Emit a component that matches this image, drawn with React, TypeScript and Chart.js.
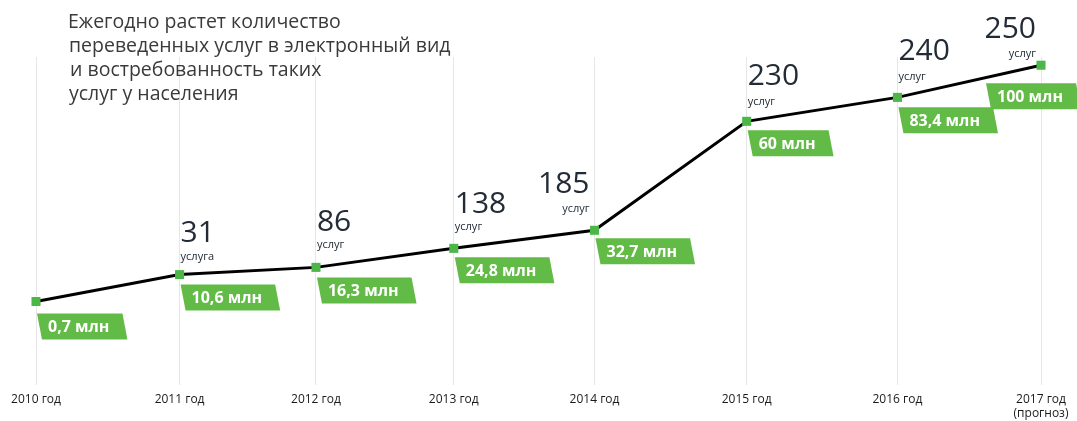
import React, { useEffect, useRef } from 'react';
import { Chart, registerables } from 'chart.js';

Chart.register(...registerables);

// ---- data ----
const years: (string | string[])[] = [
  '2010 год', '2011 год', '2012 год', '2013 год', '2014 год', '2015 год', '2016 год', ['2017 год', '(прогноз)'],
];
// horizontal position of each year on the timeline (uneven spacing)
const yearPos = [0, 1, 1.95, 2.91, 3.89, 4.95, 6, 7];
// relative height of the decorative trend line (0–100 scale)
const lineLevel = [25.5, 33.7, 35.9, 41.7, 47.2, 80.4, 87.7, 97.5];
const services: (number | null)[] = [null, 31, 86, 138, 185, 230, 240, 250];
const serviceUnits = ['', 'услуга', 'услуг', 'услуг', 'услуг', 'услуг', 'услуг', 'услуг'];
const usersMln = [0.7, 10.6, 16.3, 24.8, 32.7, 60, 83.4, 100];
const titleLines = [
  'Ежегодно растет количество',
  'переведенных услуг в электронный вид',
  'и востребованность таких',
  'услуг у населения',
];

// ---- label placement styling ----
const labelSide = ['left', 'left', 'left', 'left', 'right', 'left', 'left', 'right'];
const numLift = [0, 33, 36, 35, 37, 36, 37, 27];
const unitLift = [0, 15, 19, 18, 18, 16, 17, 8];
const boxDy = [12, 10, 10, 9, 8, 9, 10, 18];
const boxSide = ['left', 'left', 'left', 'left', 'left', 'left', 'left', 'right'];

const GREEN_BOX = '#62bb46';
const GREEN_PT = '#4cb748';
const DARK = '#222b36';

const fmt = (v: number) => String(v).replace('.', ',') + ' млн';

const annotations = {
  id: 'annotations',
  afterDatasetsDraw(chart: any) {
    const ctx = chart.ctx as CanvasRenderingContext2D;
    const meta = chart.getDatasetMeta(0);
    ctx.save();
    meta.data.forEach((pt: any, i: number) => {
      const px = pt.x;
      const py = pt.y;
      ctx.font = 'bold 16px "Open Sans"';
      const txt = fmt(usersMln[i]);
      const tw = ctx.measureText(txt).width;
      const w = tw + 24;
      const h = 26;
      const top = py + boxDy[i];
      const left = boxSide[i] === 'left' ? px + 1 : px - 55;
      const s = 5;
      ctx.fillStyle = GREEN_BOX;
      ctx.beginPath();
      ctx.moveTo(left, top);
      ctx.lineTo(left + w, top);
      ctx.lineTo(left + w + s, top + h);
      ctx.lineTo(left + s, top + h);
      ctx.closePath();
      ctx.fill();
      ctx.fillStyle = '#ffffff';
      ctx.textBaseline = 'middle';
      ctx.textAlign = 'left';
      ctx.fillText(txt, left + 11, top + h / 2 + 1);

      const sv = services[i];
      if (sv !== null) {
        const right = labelSide[i] === 'right';
        const x = right ? px - 5 : px + 1;
        ctx.textAlign = right ? 'right' : 'left';
        ctx.textBaseline = 'alphabetic';
        ctx.fillStyle = DARK;
        ctx.font = '30px "Open Sans"';
        ctx.fillText(String(sv), x, py - numLift[i]);
        ctx.font = '11px "Open Sans"';
        ctx.fillText(serviceUnits[i], x, py - unitLift[i]);
      }
    });
    ctx.restore();
  },
  afterDraw(chart: any) {
    const ctx = chart.ctx as CanvasRenderingContext2D;
    ctx.save();
    ctx.font = '19.5px "Open Sans"';
    ctx.fillStyle = '#3a3a3a';
    ctx.textAlign = 'left';
    ctx.textBaseline = 'alphabetic';
    const xs = [68, 69, 70, 69];
    titleLines.forEach((t, i) => {
      ctx.fillText(t, xs[i], 28 + i * 24);
    });
    ctx.restore();
  },
};

export default function App() {
  const ref = useRef<HTMLCanvasElement | null>(null);
  useEffect(() => {
    document.body.style.margin = '0';
    if (!ref.current) return;
    const chart = new Chart(ref.current, {
      type: 'line',
      data: {
        datasets: [
          {
            data: yearPos.map((x, i) => ({ x, y: lineLevel[i] })),
            borderColor: '#000000',
            borderWidth: 3,
            tension: 0,
            pointStyle: 'rect',
            pointRadius: 6.4,
            pointBackgroundColor: GREEN_PT,
            pointBorderWidth: 0,
            clip: false as any,
          },
        ],
      },
      options: {
        animation: false,
        responsive: true,
        maintainAspectRatio: false,
        layout: { padding: { left: 36, right: 36, top: 57, bottom: -7 } },
        plugins: { legend: { display: false }, tooltip: { enabled: false } },
        scales: {
          x: {
            type: 'linear',
            min: yearPos[0],
            max: yearPos[yearPos.length - 1],
            afterBuildTicks: (axis: any) => {
              axis.ticks = yearPos.map((v) => ({ value: v }));
            },
            grid: { color: '#e6e6e6', lineWidth: 1, drawTicks: false },
            border: { display: false },
            ticks: {
              autoSkip: false,
              maxRotation: 0,
              padding: 7,
              color: '#1a1a1a',
              font: { family: '"Open Sans"', size: 12 },
              callback: (value: any) => {
                const idx = yearPos.indexOf(Number(value));
                return idx >= 0 ? (years[idx] as any) : '';
              },
            },
          },
          y: { display: false, min: 0, max: 100 },
        },
      },
      plugins: [annotations],
    });
    return () => chart.destroy();
  }, []);
  return (
    <div style={{ position: 'relative', width: 1077, height: 421, background: '#fff' }}>
      <canvas ref={ref} />
    </div>
  );
}
